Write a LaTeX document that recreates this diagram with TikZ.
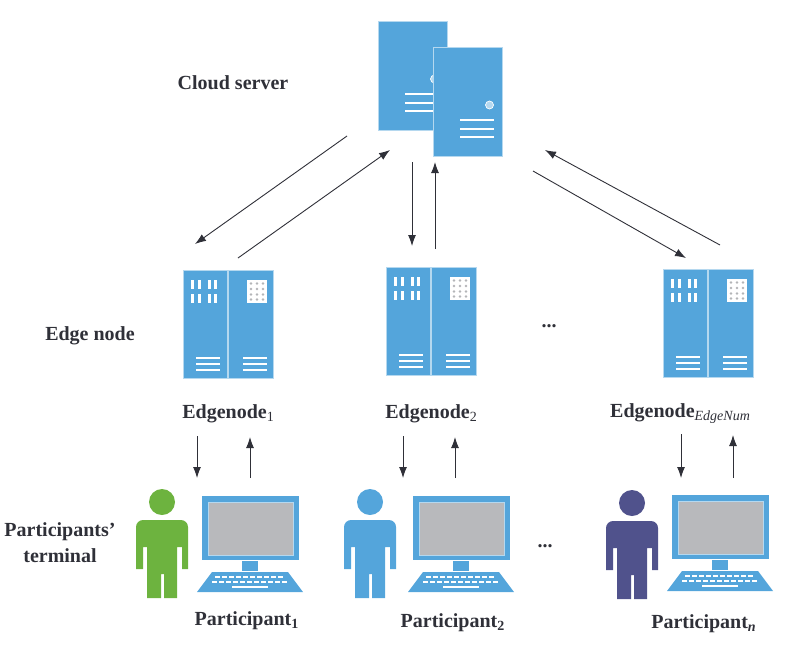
\documentclass[tikz,border=0pt]{standalone}
\usepackage{amsmath}
\usepackage{xcolor}
\usepackage{fontspec}
\setmainfont{Liberation Serif}
\usetikzlibrary{arrows.meta,positioning}

\definecolor{iconblue}{HTML}{54A5DB}
\definecolor{paleblue}{HTML}{B5D8EF}
\definecolor{screengray}{HTML}{B8B9BC}
\definecolor{dotgray}{HTML}{B4B5B8}
\definecolor{inkdark}{HTML}{2F3038}
\definecolor{mangreen}{HTML}{6DB33F}
\definecolor{mannavy}{HTML}{50528C}

\tikzset{
  flow/.style={-{Latex[length=11pt,width=8pt]}, draw=inkdark, line width=0.9pt},
  caption/.style={font=\fontsize{20}{24}\selectfont\bfseries, text=inkdark, inner sep=0pt},
  panel/.style={fill=iconblue, draw=paleblue, line width=0.6pt, inner sep=0pt, anchor=north west},
  pics/tower/.style={code={
    \node (-box) [panel, minimum width=69pt, minimum height=109pt] at (0,0) {};
    \fill[paleblue, draw=white, line width=0.7pt] (56.5,58) circle (4pt);
    \foreach \y in {73,81.5,90} {\fill[white] (26.5,\y-1) rectangle (60.5,\y+1);}
  }},
  pics/rack/.style={code={
    \node (-box) [panel, minimum width=90pt, minimum height=108pt] at (0,0) {};
    \fill[paleblue] (44.2,0) rectangle (45.8,108);
    \foreach \x in {8,15,25,31} {
      \foreach \y in {10,24} {\fill[white] (\x,\y) rectangle (\x+3.2,\y+9);}
    }
    \foreach \y in {88,94,100} {
      \fill[white] (13,\y-0.8) rectangle (37,\y+0.8);
      \fill[white] (60,\y-0.8) rectangle (84,\y+0.8);
    }
    \fill[white] (64,10) rectangle (84,33);
    \foreach \x in {68,74,80} {
      \foreach \y in {13.5,19,24.5,29.5} {\fill[dotgray] (\x,\y) circle (1.3pt);}
    }
  }},
  pics/person/.style={code={
    \fill[#1] (26,13) circle (13pt);
    \fill[#1] (0,80) [rounded corners=7pt] -- (0,31) -- (52,31) -- (52,50) [sharp corners] -- (52,80) -- (46,80) -- (46,58) -- (41,58)
      -- (41,109) -- (28,109) -- (28,85) -- (25,85) -- (25,109) -- (11,109) -- (11,58) -- (7,58) -- (7,80) -- cycle;
  }},
  pics/terminal/.style={code={
    \node (-box) [panel, draw=none, minimum width=97pt, minimum height=64pt] at (0,0) {};
    \fill[screengray, draw=paleblue, line width=0.8pt] (6,6) rectangle (91,59);
    \fill[iconblue] (40,65) rectangle (56,75);
    \fill[iconblue] (10,76) -- (86,76) -- (101,96) -- (-5,96) -- cycle;
    \foreach \x in {13,20,...,76} {\fill[white] (\x,79.5) rectangle (\x+5,82);}
    \foreach \x in {10,17,...,80} {\fill[white] (\x,84.5) rectangle (\x+5,87);}
    \fill[white] (30,89.5) rectangle (66,92);
  }}
}

\begin{document}
\begin{tikzpicture}[x=1pt, y=-1pt]
    \useasboundingbox (0,0) rectangle (799,667);

    \pic (back) at (378,21) {tower};
    \pic (front) at (433,47) {tower};

    \pic (edgeA) at (183,270) {rack};
    \pic (edgeB) at (386,267) {rack};
    \pic (edgeC) at (663,269) {rack};

    \pic at (136,489) {person=mangreen};
    \pic at (344,489) {person=iconblue};
    \pic at (606,490) {person=mannavy};
    \pic (termA) at (202,496) {terminal};
    \pic (termB) at (413,496) {terminal};
    \pic (termC) at (672,495) {terminal};

    \node (cloud) [caption] at (233,83) {Cloud server};
    \node (edge) [caption] at (90,336) {Edge node};
    \node (part) [caption, align=center] at (60,543) {Participants'\\[2pt]terminal};

    \node (nameA) [caption, below=26pt of edgeA-box] {Edgenode\textsubscript{\normalfont 1}};
    \node (nameB) [caption, below=29pt of edgeB-box] {Edgenode\textsubscript{\normalfont 2}};
    \node (nameC) [caption, below=26pt of edgeC-box, xshift=-28pt] {Edgenode\textsubscript{\normalfont\itshape EdgeNum}};
    \node (userA) [caption, below=51pt of termA-box, xshift=-4pt] {Participant\textsubscript{1}};
    \node (userB) [caption, below=53pt of termB-box, xshift=-9pt] {Participant\textsubscript{2}};
    \node (userC) [caption, below=55pt of termC-box, xshift=-17pt] {Participant\textsubscript{\itshape n}};
    \node (gapA) [caption] at (549,326) {...};
    \node (gapB) [caption] at (545,546) {...};

    \coordinate (downAs) at (347,136);  \coordinate (downAe) at (195,244);
    \coordinate (upAs) at (238,258);    \coordinate (upAe) at (390,150);
    \coordinate (downBs) at (412,162);  \coordinate (downBe) at (412,246);
    \coordinate (upBs) at (435,249);    \coordinate (upBe) at (435,162);
    \coordinate (downCs) at (533,171);  \coordinate (downCe) at (686,258);
    \coordinate (upCs) at (720,245);    \coordinate (upCe) at (545,150);
    \draw[flow] (downAs) -- (downAe);
    \draw[flow] (upAs) -- (upAe);
    \draw[flow] (downBs) -- (downBe);
    \draw[flow] (upBs) -- (upBe);
    \draw[flow] (downCs) -- (downCe);
    \draw[flow] (upCs) -- (upCe);

    \coordinate (inAs) at (197,436);    \coordinate (inAe) at (197,478);
    \coordinate (outAs) at (250,478);   \coordinate (outAe) at (250,437);
    \coordinate (inBs) at (403,436);    \coordinate (inBe) at (403,478);
    \coordinate (outBs) at (455,478);   \coordinate (outBe) at (455,437);
    \coordinate (inCs) at (681,434);    \coordinate (inCe) at (681,478);
    \coordinate (outCs) at (733,478);   \coordinate (outCe) at (733,435);
    \draw[flow] (inAs) -- (inAe);
    \draw[flow] (outAs) -- (outAe);
    \draw[flow] (inBs) -- (inBe);
    \draw[flow] (outBs) -- (outBe);
    \draw[flow] (inCs) -- (inCe);
    \draw[flow] (outCs) -- (outCe);
  \end{tikzpicture}
\end{document}
